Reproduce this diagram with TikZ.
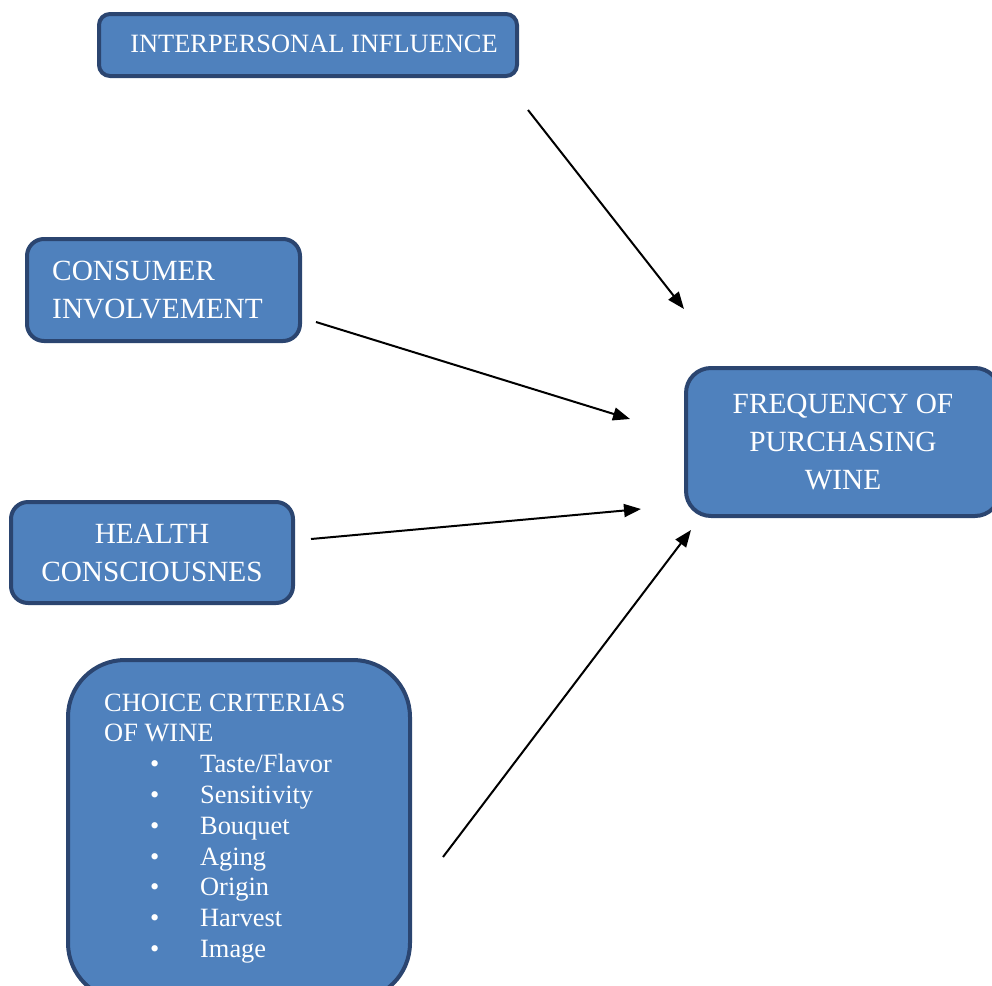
\documentclass[tikz,border=0pt]{standalone}
\usepackage{fontspec}
\setmainfont{Liberation Serif}
\usetikzlibrary{arrows.meta}
\definecolor{boxfill}{HTML}{4F81BD}
\definecolor{boxedge}{HTML}{2B4570}
\begin{document}
\begin{tikzpicture}[x=1pt,y=-1pt,
  box/.style={draw=boxedge, fill=boxfill, line width=4pt, inner sep=0pt,
    text=white, align=center,
    font=\fontsize{29.3}{38}\selectfont},
  boxtext/.style={text=white, inner sep=0pt},
  link/.style={line width=2pt, -{Triangle[length=17pt,width=13pt]}}]
\useasboundingbox (0,0) rectangle (992,985);
\clip (0,0) rectangle (992,985);

% factor boxes
\node[box, rounded corners=11pt, minimum width=418pt, minimum height=62pt,
  font=\fontsize{26.4}{32}\selectfont]
  (inter) at (308,45) {\raisebox{3pt}{\hspace*{12pt}INTERPERSONAL INFLUENCE}};
\node[box, rounded corners=17pt, minimum width=273pt, minimum height=102pt, align=left]
  (invol) at (163.5,290) {CONSUMER\\INVOLVEMENT\hspace*{12pt}};
\node[box, rounded corners=17pt, minimum width=282pt, minimum height=101pt]
  (health) at (152,552.5) {HEALTH\\CONSCIOUSNES};
\node[box, rounded corners=57pt, minimum width=342pt, minimum height=340pt]
  (choice) at (239,830) {};
\node[boxtext, anchor=base west, font=\fontsize{26.4}{30.8}\selectfont]
  (choicetext) at (104,711) {\parbox[t]{300pt}{\baselineskip=30.8pt
  CHOICE CRITERIAS\\OF WINE\\
  \makebox[96pt][l]{\hspace*{46pt}•}Taste/Flavor\\
  \makebox[96pt][l]{\hspace*{46pt}•}Sensitivity\\
  \makebox[96pt][l]{\hspace*{46pt}•}Bouquet\\
  \makebox[96pt][l]{\hspace*{46pt}•}Aging\\
  \makebox[96pt][l]{\hspace*{46pt}•}Origin\\
  \makebox[96pt][l]{\hspace*{46pt}•}Harvest\\
  \makebox[96pt][l]{\hspace*{46pt}•}Image}};

% outcome box
\node[box, rounded corners=25pt, minimum width=314pt, minimum height=148pt]
  (freq) at (843,442) {FREQUENCY OF\\PURCHASING\\WINE};

% arrow end points
\coordinate (a1s) at (528,110); \coordinate (a1e) at (684,309);
\coordinate (a2s) at (316,322); \coordinate (a2e) at (630,419);
\coordinate (a3s) at (311,539); \coordinate (a3e) at (641,509);
\coordinate (a4s) at (443,857); \coordinate (a4e) at (691,530);

\draw[link] (a1s) -- (a1e);
\draw[link] (a2s) -- (a2e);
\draw[link] (a3s) -- (a3e);
\draw[link] (a4s) -- (a4e);
\end{tikzpicture}
\end{document}
